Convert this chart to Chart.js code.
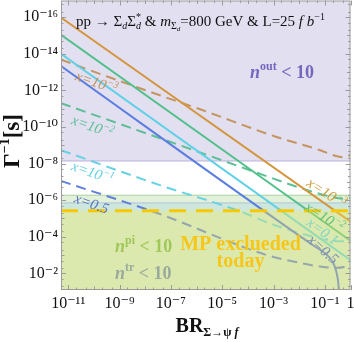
<!DOCTYPE html>
<html lang="en">
<head>
  <meta charset="UTF-8" />
  <title>Lifetime vs branching ratio</title>
  <script src="https://cdn.jsdelivr.net/npm/chart.js"></script>
  <style>
    body { margin: 0; background: #fff; }
    canvas { display: block; }
  </style>
</head>
<body>

<canvas id="chart" width="354" height="342"></canvas>

<script>
  // shown ranges, log10 units
  const xRange = [-11.28, 0];
  const yRange = [-16.91, -1.09];
  const xTickExp = [-11, -9, -7, -5, -3, -1, 0];
  const yTickExp = [-16, -14, -12, -10, -8, -6, -4, -2];

  // horizontal limits of the shaded regions (log10 of Γ^-1)
  const outLimit = -8.14;
  const piLimit = -6.27;
  const trLimit = -5.85;
  const mpLimit = -5.42;

  // curves, [log10 BR, log10 Γ^-1]
  const solidX3 = [[-11.28, -15.98], [0, -4.82]];
  const solidX2 = [[-11.28, -15.04], [0, -3.78]];
  const solidX1 = [[-11.28, -14.0], [0, -2.72]];
  const solidX05 = [[-11.28, -13.33], [-1.58, -3.65], [-1.0, -3.1], [-0.69, -2.62], [-0.57, -2.18], [-0.49, -1.64], [-0.45, -1.09]];

  const dashX3 = [[-11.28, -13.68], [-9.37, -12.7], [-7.43, -11.73], [-5.75, -10.91], [-2.88, -9.45], [-1.18, -8.73], [-0.61, -8.43], [-0.3, -8.35], [0, -8.47]];
  const dashX2 = [[-11.28, -11.3], [-6.65, -9.0], [-4.05, -7.7], [-1.58, -6.5], [-0.8, -6.2], [-0.3, -6.08], [0, -6.12]];
  const dashX1 = [[-11.28, -8.73], [-7.43, -6.82], [-4.24, -5.36], [-3.14, -4.73], [-1.6, -4.05], [-0.8, -3.8], [-0.3, -3.75], [0, -3.85]];
  const dashX05 = [[-11.28, -7.05], [-7.43, -5.24], [-3.27, -3.0], [-1.9, -2.55], [-1.12, -2.36], [-0.5, -2.3], [0, -2.45]];

  const SERIF = '"Liberation Serif", "DejaVu Serif", serif';
  const f = (size, style) => (style || '') + ' ' + size + 'px ' + SERIF;
  const pts = arr => arr.map(([a, b]) => ({x: 10 ** a, y: 10 ** b}));
  const SUP = {'-': '⁻', '0': '⁰', '1': '¹', '2': '²', '3': '³', '4': '⁴', '5': '⁵', '6': '⁶', '7': '⁷', '8': '⁸', '9': '⁹'};
  const tickLabel = v => {
    const e = Math.round(Math.log10(v));
    return e === 0 ? '1' : '10' + String(e).split('').map(c => SUP[c]).join('');
  };

  function curve(arr, color, dashed, order) {
    return {
      data: pts(arr), borderColor: color, borderWidth: 2, borderDash: dashed ? [10, 6] : [],
      pointRadius: 0, fill: false, cubicInterpolationMode: 'monotone', order: order
    };
  }

  function band(level, to, bg, line, order) {
    return {
      data: pts([[xRange[0], level], [xRange[1], level]]),
      borderColor: line || 'transparent', borderWidth: 1, backgroundColor: bg,
      fill: {value: 10 ** to}, pointRadius: 0, order: order
    };
  }

  // small rich-text helper for sub/superscripts
  function rich(ctx, x, y, parts, opt) {
    ctx.save();
    ctx.translate(x, y);
    if (opt.angle) ctx.rotate(opt.angle * Math.PI / 180);
    ctx.fillStyle = opt.color;
    ctx.textAlign = 'left';
    ctx.textBaseline = 'alphabetic';
    let w = 0;
    parts.forEach(p => { ctx.font = p.f; if (!p.stack) w += ctx.measureText(p.t).width; });
    let cx = opt.center ? -w / 2 : 0;
    parts.forEach(p => {
      ctx.font = p.f;
      ctx.fillText(p.t, cx, p.dy || 0);
      if (!p.stack) cx += ctx.measureText(p.t).width;
    });
    ctx.restore();
  }

  const annotations = {
    id: 'annotations',
    afterDraw(chart) {
      const ctx = chart.ctx;
      const a = chart.chartArea;
      const xs = chart.scales.x, ys = chart.scales.y;

      // labels on the curves
      const lab = (txt, sup, x, y, angle, color) => rich(ctx, x, y, [
        {t: txt, f: f(15, 'italic')}, {t: sup, f: f(10, 'italic'), dy: -6}
      ], {center: true, angle: angle, color: color});
      lab('x=10', '−3', 95, 87, 19.5, '#c4915e');
      lab('x=10', '−2', 91, 131, 19.5, '#5cbf95');
      lab('x=10', '−1', 91, 177, 19.5, '#66d2e4');
      lab('x=0.5', '', 90, 208, 19.5, '#5875c4');
      lab('x=10', '−3', 324, 197, 33, '#cf9a3c');
      lab('x=10', '−2', 322, 221, 33, '#5ec27a');
      lab('x=0.1', '', 320, 235, 36, '#7ed6c4');
      lab('x=0.5', '', 320, 253, 42, '#7b8fb6');

      // title line
      rich(ctx, 76, 26, [
        {t: 'pp → Σ', f: f(15)}, {t: 'd', f: f(10, 'italic'), dy: 3},
        {t: 'Σ', f: f(15)}, {t: 'd', f: f(10, 'italic'), dy: 3, stack: true}, {t: '*', f: f(10), dy: -6},
        {t: ' & ', f: f(15)}, {t: 'm', f: f(15, 'italic')}, {t: 'Σ', f: f(10), dy: 3}, {t: 'd', f: f(7, 'italic'), dy: 5},
        {t: '=800 GeV & L=25 ', f: f(15)}, {t: 'f b', f: f(15, 'italic')}, {t: '−1', f: f(10), dy: -6}
      ], {color: '#111'});

      // region labels
      const nLab = (sup, x, y, color) => rich(ctx, x, y, [
        {t: 'n', f: f(18, 'italic bold')}, {t: sup, f: f(12, 'bold'), dy: -8}, {t: ' < 10', f: f(18, 'bold')}
      ], {color: color});
      nLab('out', 250, 78, '#7567bd');
      nLab('pi', 115, 252, '#a0c75a');
      nLab('tr', 115, 279, '#9aab9d');
      rich(ctx, 240.5, 250, [{t: 'MP exclueded', f: f(20, 'bold')}], {center: true, color: '#f6c71a'});
      rich(ctx, 240.5, 267, [{t: 'today', f: f(20, 'bold')}], {center: true, color: '#f6c71a'});

      // axis titles
      rich(ctx, 19, 141, [
        {t: 'Γ', f: f(23, 'bold')}, {t: '−1', f: f(14, 'bold'), dy: -10}, {t: '[s]', f: f(23, 'bold')}
      ], {center: true, angle: -90, color: '#111'});
      rich(ctx, 207, 332, [
        {t: 'BR', f: f(20, 'bold')}, {t: 'Σ→ψ ', f: f(12, 'bold'), dy: 4}, {t: 'f', f: f(12, 'bold italic'), dy: 4}
      ], {center: true, color: '#111'});

      // inward ticks (decades, plus 2x and 5x minors) and frame
      ctx.save();
      ctx.strokeStyle = '#9c9c9c';
      ctx.lineWidth = 1;
      ctx.beginPath();
      const minors = [0, Math.log10(2), Math.log10(5)];
      for (let e = -12; e <= 0; e++) {
        minors.forEach((m, i) => {
          const v = e + m;
          if (v < xRange[0] || v > xRange[1]) return;
          const px = Math.round(xs.getPixelForValue(10 ** v)) + 0.5;
          const len = i ? 2.5 : (xTickExp.includes(e) ? 5 : 3.5);
          ctx.moveTo(px, a.bottom); ctx.lineTo(px, a.bottom - len);
          ctx.moveTo(px, a.top); ctx.lineTo(px, a.top + len);
        });
      }
      for (let e = -17; e <= -2; e++) {
        minors.forEach((m, i) => {
          const v = e + m;
          if (v < yRange[0] || v > yRange[1]) return;
          const py = Math.round(ys.getPixelForValue(10 ** v)) + 0.5;
          const len = i ? 2.5 : (yTickExp.includes(e) ? 5 : 3.5);
          ctx.moveTo(a.left, py); ctx.lineTo(a.left + len, py);
          ctx.moveTo(a.right, py); ctx.lineTo(a.right - len, py);
        });
      }
      ctx.stroke();
      ctx.strokeRect(a.left + 0.5, a.top + 0.5, a.right - a.left - 1, a.bottom - a.top - 1);
      ctx.restore();
    }
  };

  new Chart(document.getElementById('chart'), {
    type: 'line',
    data: {
      datasets: [
        band(outLimit, yRange[0], '#e2dff1', '#b9b2da', 50),
        band(piLimit, yRange[1], '#e3f0da', '#a9d39a', 49),
        band(trLimit, yRange[1], '#cde6de', '#aec6d6', 48),
        curve(dashX3, '#c4955f', true, 20),
        curve(dashX2, '#5cbf95', true, 20),
        curve(dashX1, '#66d2e4', true, 20),
        curve(dashX05, '#6080dc', true, 20),
        curve(solidX3, '#d4953c', false, 19),
        curve(solidX2, '#4fc089', false, 19),
        curve(solidX1, '#5ed1e6', false, 19),
        curve(solidX05, '#5a7ee0', false, 19),
        band(mpLimit, yRange[1], 'rgba(250,237,85,0.35)', null, 5),
        {
          data: pts([[xRange[0], mpLimit], [xRange[1], mpLimit]]), borderColor: '#f7c900',
          borderWidth: 3, borderDash: [17, 10], pointRadius: 0, fill: false, order: 1
        }
      ]
    },
    options: {
      responsive: false,
      animation: false,
      devicePixelRatio: 1,
      layout: {padding: {top: 0.5, right: 3.5, left: 0, bottom: 0}},
      plugins: {legend: {display: false}, tooltip: {enabled: false}},
      scales: {
        x: {
          type: 'logarithmic', min: 10 ** xRange[0], max: 10 ** xRange[1],
          grid: {display: false, drawTicks: false}, border: {display: false},
          afterBuildTicks: s => { s.ticks = xTickExp.map(e => ({value: 10 ** e})); },
          afterFit: s => { s.height = 52; s.paddingLeft = 0; s.paddingRight = 0; },
          ticks: {autoSkip: false, maxRotation: 0, padding: 4, color: '#111',
            font: {family: SERIF, size: 16}, callback: tickLabel}
        },
        y: {
          type: 'logarithmic', reverse: true, min: 10 ** yRange[0], max: 10 ** yRange[1],
          grid: {display: false, drawTicks: false}, border: {display: false},
          afterBuildTicks: s => { s.ticks = yTickExp.map(e => ({value: 10 ** e})); },
          afterFit: s => { s.width = 61; s.paddingTop = 0; s.paddingBottom = 0; },
          ticks: {autoSkip: false, padding: 3, color: '#111',
            font: {family: SERIF, size: 16}, callback: tickLabel}
        }
      }
    },
    plugins: [annotations]
  });
</script>

</body>
</html>
